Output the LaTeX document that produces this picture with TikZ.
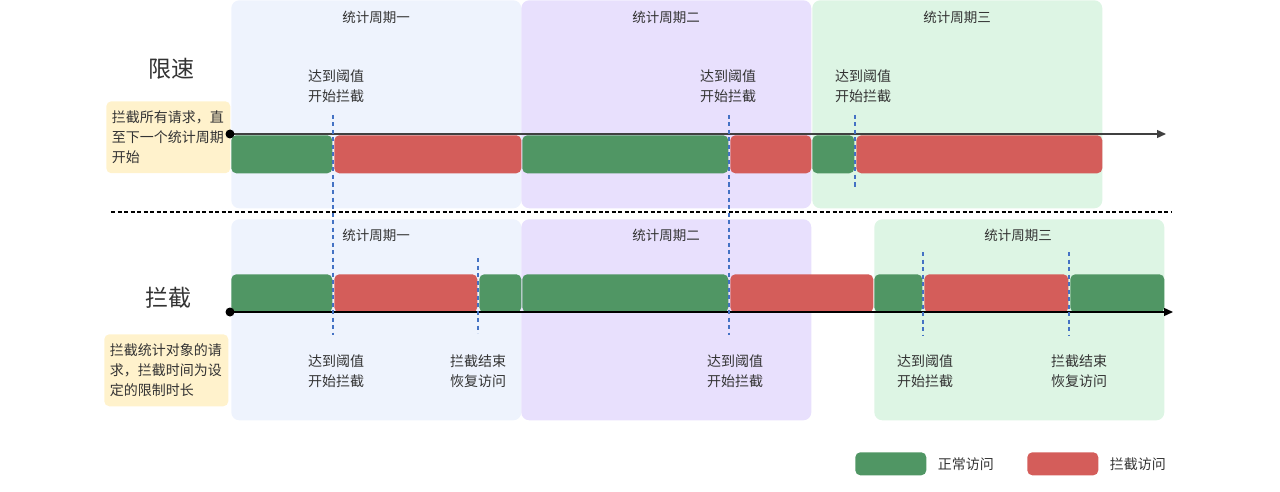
\documentclass[tikz,border=0pt]{standalone}
\usepackage{fontspec}
\setmainfont{Noto Sans CJK SC}
\usepackage{tikz}
\usetikzlibrary{arrows.meta,positioning,calc}
\tikzset{
  >=Stealth,
  every picture/.append style={line width=0.6pt},
  every node/.append style={font=\fontsize{14}{20}\selectfont, text=textgray},
}
\tikzset{
  period/.style={draw=none, rounded corners=8pt, anchor=north west, inner sep=0pt, minimum width=290pt},
  bar/.style={draw=none, rounded corners=5pt, anchor=north west, inner sep=0pt, minimum height=38pt},
  okbar/.style={bar, fill=okgreen},
  blockbar/.style={bar, fill=blockred},
  note/.style={fill=notebg, rounded corners=5pt, align=left, text width=113pt, inner xsep=5.5pt, inner ysep=9.5pt, anchor=north west},
  marker/.style={draw=markblue, line width=1.5pt, dash pattern=on 4pt off 3.5pt},
  timeline/.style={line width=1.3pt, -{Triangle[length=9pt,width=8pt]}}
}

\begin{document}
\begin{tikzpicture}[
    x=1pt, y=-1pt,
    title/.style={font=\fontsize{13.5}{18}\selectfont},
    heading/.style={font=\fontsize{23}{28}\selectfont},
    label/.style={align=center, inner sep=0pt},
    legend/.style={draw=none, rounded corners=5pt, inner sep=0pt, minimum width=71pt, minimum height=23pt, anchor=north west},
    legtext/.style={inner sep=0pt, anchor=west}
]
% Color definitions
\definecolor{periodblue}{RGB}{238,243,253}
\definecolor{periodpurple}{RGB}{232,224,253}
\definecolor{periodgreen}{RGB}{221,245,228}
\definecolor{okgreen}{RGB}{80,150,100}
\definecolor{blockred}{RGB}{212,93,90}
\definecolor{notebg}{RGB}{255,242,204}
\definecolor{markblue}{RGB}{68,114,196}
\definecolor{textgray}{RGB}{51,51,51}

\useasboundingbox (0,0) rectangle (1280,492);

% Periods
\node[period, fill=periodblue, minimum height=208pt] (up1) at (231,0) {};
\node[period, fill=periodpurple, minimum height=208pt] (up2) at (521,0) {};
\node[period, fill=periodgreen, minimum height=208pt] (up3) at (812,0) {};
\node[period, fill=periodblue, minimum height=201pt] (lo1) at (231,219) {};
\node[period, fill=periodpurple, minimum height=201pt] (lo2) at (521,219) {};
\node[period, fill=periodgreen, minimum height=201pt] (lo3) at (874,219) {};

\node[title] (tup1) at (376,17) {统计周期一};
\node[title] (tup2) at (666,17) {统计周期二};
\node[title] (tup3) at (957,17) {统计周期三};
\node[title] (tlo1) at (376,235) {统计周期一};
\node[title] (tlo2) at (666,235) {统计周期二};
\node[title] (tlo3) at (1018,235) {统计周期三};

% Headings and notes
\node[heading] (limit) at (171,69) {限速};
\node[note] (limitnote) at (106,101) {拦截所有请求，直\\至下一个统计周期\\开始};
\node[heading] (block) at (168,298) {拦截};
\node[note] (blocknote) at (104,334) {拦截统计对象的请\\求，拦截时间为设\\定的限制时长};

% Bars
\node[okbar, minimum width=101pt] (okA1) at (231,135) {};
\node[blockbar, minimum width=187pt] (redA1) at (334,135) {};
\node[okbar, minimum width=206pt] (okA2) at (522,135) {};
\node[blockbar, minimum width=81pt] (redA2) at (730,135) {};
\node[okbar, minimum width=42pt] (okA3) at (812,135) {};
\node[blockbar, minimum width=246pt] (redA3) at (856,135) {};

\node[okbar, minimum width=101pt] (okB1) at (231,274) {};
\node[blockbar, minimum width=143pt] (redB1) at (334,274) {};
\node[okbar, minimum width=42pt] (okB2) at (479,274) {};
\node[okbar, minimum width=206pt] (okB3) at (522,274) {};
\node[blockbar, minimum width=143pt] (redB2) at (730,274) {};
\node[okbar, minimum width=48pt] (okB4) at (874,274) {};
\node[blockbar, minimum width=144pt] (redB3) at (924,274) {};
\node[okbar, minimum width=94pt] (okB5) at (1070,274) {};

% Timelines
\coordinate (startA) at (230,134);
\coordinate (endA) at (1166,134);
\coordinate (startB) at (230,312);
\coordinate (endB) at (1173,312);
\draw[timeline, draw=black!75] (startA) -- (endA);
\draw[timeline] (startB) -- (endB);
\fill (startA) circle (4.5pt);
\fill (startB) circle (4.5pt);

% Separator
\coordinate (sepL) at (111,212);
\coordinate (sepR) at (1172,212);
\draw[line width=1.6pt, dash pattern=on 4pt off 2.5pt] (sepL) -- (sepR);

% Markers
\coordinate (mA1) at (333,115);
\coordinate (mA1e) at (333,335);
\coordinate (mA2) at (729,115);
\coordinate (mA2e) at (729,335);
\coordinate (mA3) at (855,115);
\coordinate (mA3e) at (855,188);
\coordinate (mB1) at (478,258);
\coordinate (mB1e) at (478,333);
\coordinate (mB2) at (923,252);
\coordinate (mB2e) at (923,335);
\coordinate (mB3) at (1069,252);
\coordinate (mB3e) at (1069,335);
\draw[marker] (mA1) -- (mA1e);
\draw[marker] (mA2) -- (mA2e);
\draw[marker] (mA3) -- (mA3e);
\draw[marker] (mB1) -- (mB1e);
\draw[marker] (mB2) -- (mB2e);
\draw[marker] (mB3) -- (mB3e);

% Labels
\node[label] (lA1) at (336,86) {达到阈值\\开始拦截};
\node[label] (lA2) at (728,86) {达到阈值\\开始拦截};
\node[label] (lA3) at (863,86) {达到阈值\\开始拦截};
\node[label] (lB1) at (336,371) {达到阈值\\开始拦截};
\node[label] (lB2) at (478,371) {拦截结束\\恢复访问};
\node[label] (lB3) at (735,371) {达到阈值\\开始拦截};
\node[label] (lB4) at (925,371) {达到阈值\\开始拦截};
\node[label] (lB5) at (1079,371) {拦截结束\\恢复访问};

% Legend
\node[legend, fill=okgreen] (legok) at (855,452) {};
\node[legtext, right=11pt of legok] (legoktext) {正常访问};
\node[legend, fill=blockred] (legblock) at (1027,452) {};
\node[legtext, right=11pt of legblock] (legblocktext) {拦截访问};

\end{tikzpicture}
\end{document}
